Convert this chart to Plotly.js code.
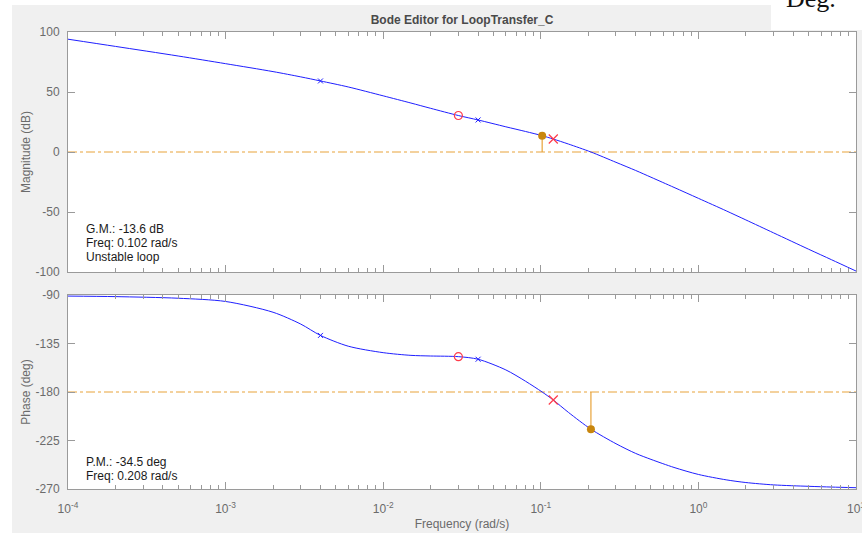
<!DOCTYPE html>
<html>
<head>
<meta charset="utf-8">
<script src="https://cdn.plot.ly/plotly-3.0.1.min.js"></script>
<style>
  html, body { margin: 0; padding: 0; background: #ffffff; }
  #bode { width: 862px; height: 533px; }
</style>
</head>
<body>
<div id="bode"></div>
<script>
// Open-loop frequency response (rad/s) of LoopTransfer_C
const freq = [1e-4, 2e-4, 5e-4, 1e-3, 2e-3, 3e-3, 4e-3, 6e-3, 1e-2, 1.5e-2, 2e-2, 3e-2, 4e-2, 6e-2, 8e-2,
              0.102, 0.12, 0.15, 0.208, 0.3, 0.4, 0.5, 0.7, 1, 1.5, 2, 3, 5, 7, 10];
const magDb = [94, 88, 80, 73.6, 67.0, 62.6, 59.2, 54.2, 46.8, 40.8, 36.4, 30.4, 26.7, 21.0, 17.1,
               13.6, 10.8, 6.6, 0, -8.6, -15.4, -21, -29.5, -38.6, -49, -56.6, -67.4, -81, -89.8, -99.2];
const phaseDeg = [-91, -91.5, -93, -96, -106, -117, -127.5, -137.5, -143.5, -146, -146.6, -147.2, -149.6, -159.5, -170,
                  -180, -187.4, -199, -214.5, -228, -237, -242.5, -250, -256.5, -261.5, -264, -266.2, -267.5, -268.2, -268.8];

// Compensator / plant singularities
const plantPoleFreq = [0.004, 0.04];
const plantPoleMag = [59.2, 26.7];
const plantPolePhase = [-127.5, -149.6];
const compZeroFreq = [0.03];
const compZeroMag = [30.4];
const compZeroPhase = [-147.2];
const compPoleFreq = [0.12];
const compPoleMag = [10.8];
const compPolePhase = [-187.4];

// Stability margins
const gmDb = -13.6, gmFreq = 0.102;
const pmDeg = -34.5, pmFreq = 0.208;

// Reference levels and axis ticks
const freqSpan = [1e-4, 10];
const magRefDb = 0, phaseRefDeg = -180;
const decadeVals = [1e-4, 1e-3, 1e-2, 1e-1, 1, 10];
const decadeText = ['10<sup>-4</sup>', '10<sup>-3</sup>', '10<sup>-2</sup>', '10<sup>-1</sup>', '10<sup>0</sup>', '10<sup>1</sup>'];
const magTicks = [-100, -50, 0, 50, 100];
const magTickText = ['-100', '-50', '0', '50', '100'];
const phaseTicks = [-270, -225, -180, -135, -90];
const phaseTickText = ['-270', '-225', '-180', '-135', '-90'];

const minorVals = [];
for (let d = -4; d < 1; d++) {
  for (let k = 2; k <= 9; k++) minorVals.push(k * Math.pow(10, d));
}

const BLUE = '#1f1fff', ORANGE = '#e8a33a', DOT = '#c8860d', RED = '#ff3b4a';
const AX = '#9a9a9a', LBL = '#6b6b6b';
const FONT = 'Liberation Sans, Arial, sans-serif';

const mk = (ax, ay) => ({ xaxis: ax, yaxis: ay });
const xMark = (c, s, w) => ({ symbol: 'x-thin-open', size: s, color: c, line: { color: c, width: w } });
const oMark = c => ({ symbol: 'circle-open', size: 8, color: c, line: { color: c, width: 1.2 } });

const traces = [
  Object.assign({ x: freqSpan, y: [magRefDb, magRefDb], mode: 'lines',
    line: { color: ORANGE, width: 1, dash: 'dashdot' } }, mk('x', 'y')),
  Object.assign({ x: freqSpan, y: [phaseRefDeg, phaseRefDeg], mode: 'lines',
    line: { color: ORANGE, width: 1, dash: 'dashdot' } }, mk('x2', 'y2')),
  Object.assign({ x: freq, y: magDb, mode: 'lines',
    line: { color: BLUE, width: 1, shape: 'spline', smoothing: 0.8 } }, mk('x', 'y')),
  Object.assign({ x: freq, y: phaseDeg, mode: 'lines',
    line: { color: BLUE, width: 1, shape: 'spline', smoothing: 0.8 } }, mk('x2', 'y2')),
  // gain margin stem + marker
  Object.assign({ x: [gmFreq, gmFreq], y: [magRefDb, magRefDb - gmDb], mode: 'lines',
    line: { color: ORANGE, width: 1.2 } }, mk('x', 'y')),
  Object.assign({ x: [gmFreq], y: [magRefDb - gmDb], mode: 'markers',
    marker: { color: DOT, size: 8, symbol: 'circle' } }, mk('x', 'y')),
  // phase margin stem + marker
  Object.assign({ x: [pmFreq, pmFreq], y: [phaseRefDeg, phaseRefDeg + pmDeg], mode: 'lines',
    line: { color: ORANGE, width: 1.2 } }, mk('x2', 'y2')),
  Object.assign({ x: [pmFreq], y: [phaseRefDeg + pmDeg], mode: 'markers',
    marker: { color: DOT, size: 8, symbol: 'circle' } }, mk('x2', 'y2')),
  // plant poles
  Object.assign({ x: plantPoleFreq, y: plantPoleMag, mode: 'markers', marker: xMark(BLUE, 5, 1) }, mk('x', 'y')),
  Object.assign({ x: plantPoleFreq, y: plantPolePhase, mode: 'markers', marker: xMark(BLUE, 5, 1) }, mk('x2', 'y2')),
  // compensator zero
  Object.assign({ x: compZeroFreq, y: compZeroMag, mode: 'markers', marker: oMark(RED) }, mk('x', 'y')),
  Object.assign({ x: compZeroFreq, y: compZeroPhase, mode: 'markers', marker: oMark(RED) }, mk('x2', 'y2')),
  // compensator pole
  Object.assign({ x: compPoleFreq, y: compPoleMag, mode: 'markers', marker: xMark(RED, 9, 1.2) }, mk('x', 'y')),
  Object.assign({ x: compPoleFreq, y: compPolePhase, mode: 'markers', marker: xMark(RED, 9, 1.2) }, mk('x2', 'y2'))
];

const L = 68, R = 856, T = 32, B = 489, W = 862, H = 533;
const pw = R - L, ph = B - T;
const px = v => (v - L) / pw;
const py = v => (B - v) / ph;

const logX = {
  type: 'log', range: [-4, 1], tickmode: 'array', tickvals: decadeVals, ticktext: decadeText,
  ticks: 'inside', ticklen: 7, tickcolor: AX, tickwidth: 1,
  minor: { tickmode: 'array', tickvals: minorVals, ticks: 'inside', ticklen: 4, tickcolor: AX, showgrid: false },
  showline: true, linecolor: AX, linewidth: 1, mirror: 'ticks',
  showgrid: false, zeroline: false, ticklabeloverflow: 'allow',
  tickfont: { family: FONT, size: 12, color: LBL }
};

const linY = {
  tickmode: 'array', ticks: 'inside', ticklen: 7, tickcolor: AX, tickwidth: 1,
  showline: true, linecolor: AX, linewidth: 1, mirror: 'ticks',
  showgrid: false, zeroline: false, ticklabelstandoff: 5,
  tickfont: { family: FONT, size: 12, color: LBL }
};

const noteFont = { family: FONT, size: 12, color: '#1a1a1a' };
const note = (text, yPix) => ({
  text, xref: 'paper', yref: 'paper', x: px(84), y: py(yPix),
  xanchor: 'left', yanchor: 'middle', showarrow: false, font: noteFont
});

const layout = {
  width: W, height: H,
  margin: { l: L, r: W - R, t: T, b: H - B, pad: 0 },
  paper_bgcolor: '#f0f0f0', plot_bgcolor: '#ffffff',
  showlegend: false,
  font: { family: FONT, color: LBL },
  title: {
    text: '<b>Bode Editor for LoopTransfer_C</b>',
    font: { family: FONT, size: 12, color: '#4a4a4a' },
    x: 0.5, xref: 'paper', xanchor: 'center',
    y: 1 - 20 / H, yref: 'container', yanchor: 'middle'
  },
  xaxis: Object.assign({}, logX, { anchor: 'y', domain: [0, 1], showticklabels: false }),
  yaxis: Object.assign({}, linY, { anchor: 'x', domain: [py(272), 1], range: [-100, 100],
    tickvals: magTicks, ticktext: magTickText,
    title: { text: 'Magnitude (dB)', font: { family: FONT, size: 12, color: LBL }, standoff: 2 } }),
  xaxis2: Object.assign({}, logX, { anchor: 'y2', domain: [0, 1], ticklabelstandoff: 9,
    title: { text: 'Frequency (rad/s)', font: { family: FONT, size: 12, color: LBL }, standoff: 4 } }),
  yaxis2: Object.assign({}, linY, { anchor: 'x2', domain: [0, py(295)], range: [-270, -90],
    tickvals: phaseTicks, ticktext: phaseTickText,
    title: { text: 'Phase (deg)', font: { family: FONT, size: 12, color: LBL }, standoff: 2 } }),
  shapes: [
    { type: 'rect', xref: 'paper', yref: 'paper', x0: px(0), x1: px(12), y0: py(H), y1: py(0),
      fillcolor: '#ffffff', line: { width: 0 }, layer: 'below' },
    { type: 'rect', xref: 'paper', yref: 'paper', x0: px(0), x1: px(W), y0: py(5), y1: py(0),
      fillcolor: '#ffffff', line: { width: 0 }, layer: 'below' },
    { type: 'rect', xref: 'paper', yref: 'paper', x0: px(771), x1: px(W), y0: py(30), y1: py(0),
      fillcolor: '#ffffff', line: { width: 0 }, layer: 'below' }
  ],
  annotations: [
    note('G.M.: ' + gmDb.toFixed(1) + ' dB', 229),
    note('Freq: ' + gmFreq.toFixed(3) + ' rad/s', 243),
    note('Unstable loop', 257),
    note('P.M.: ' + pmDeg.toFixed(1) + ' deg', 462),
    note('Freq: ' + pmFreq.toFixed(3) + ' rad/s', 476),
    { text: 'Deg.', xref: 'paper', yref: 'paper', x: px(784), y: py(-1), xanchor: 'left', yanchor: 'middle',
      showarrow: false, font: { family: 'Liberation Serif, serif', size: 26, color: '#111111' } }
  ]
};

Plotly.newPlot('bode', traces, layout, { staticPlot: true, displayModeBar: false });
</script>
</body>
</html>
